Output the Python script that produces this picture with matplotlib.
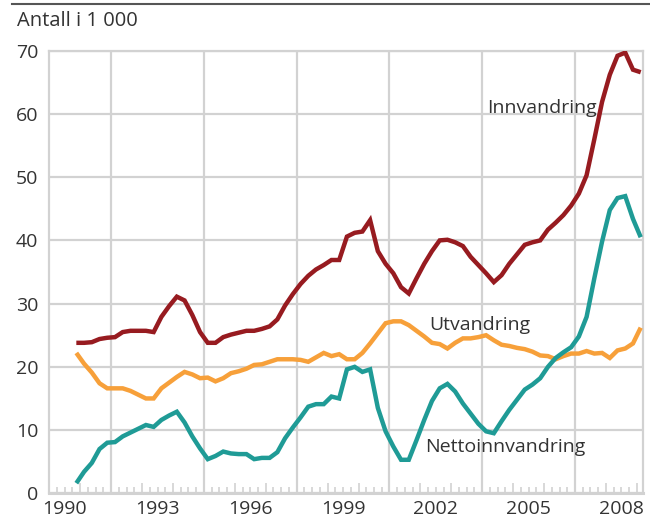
import matplotlib
matplotlib.use('Agg')
import matplotlib.pyplot as plt
import numpy as np

plt.rcParams['font.family'] = ['Open Sans', 'DejaVu Sans']

# quarterly series, first point 1990 Q4, last point 2009 Q1 (thousands)
first_year, first_quarter = 1990, 4

innvandring = [
    23.8, 23.8, 23.9, 24.4, 24.6, 24.7, 25.5, 25.7, 25.7, 25.7,
    25.5, 27.9, 29.6, 31.1, 30.5, 28.2, 25.5, 23.8, 23.8, 24.7,
    25.1, 25.4, 25.7, 25.7, 26.0, 26.4, 27.5, 29.7, 31.5, 33.1,
    34.4, 35.4, 36.1, 36.9, 36.9, 40.6, 41.2, 41.4, 43.2, 38.3,
    36.3, 34.8, 32.6, 31.6, 34.0, 36.3, 38.3, 40.0, 40.1, 39.7,
    39.1, 37.4, 36.1, 34.8, 33.4, 34.5, 36.3, 37.8, 39.3, 39.7,
    40.0, 41.7, 42.8, 44.0, 45.5, 47.4, 50.3, 56.0, 61.9, 66.2,
    69.2, 69.7, 67.0, 66.6,
]

utvandring = [
    22.2, 20.5, 19.1, 17.4, 16.6, 16.6, 16.6, 16.2, 15.6, 15.0,
    15.0, 16.6, 17.5, 18.4, 19.2, 18.8, 18.2, 18.3, 17.7, 18.2,
    19.0, 19.3, 19.7, 20.3, 20.4, 20.8, 21.2, 21.2, 21.2, 21.1,
    20.8, 21.5, 22.2, 21.7, 22.0, 21.2, 21.2, 22.2, 23.7, 25.3,
    26.9, 27.2, 27.2, 26.6, 25.7, 24.8, 23.8, 23.6, 22.9, 23.8,
    24.5, 24.5, 24.7, 25.0, 24.2, 23.5, 23.3, 23.0, 22.8, 22.4,
    21.8, 21.7, 21.2, 21.7, 22.1, 22.1, 22.5, 22.1, 22.2, 21.4,
    22.6, 22.9, 23.7, 26.2,
]

nettoinnvandring = [
    1.6, 3.4, 4.8, 7.0, 8.0, 8.1, 9.0, 9.6, 10.2, 10.8,
    10.5, 11.6, 12.3, 12.9, 11.2, 9.0, 7.1, 5.4, 5.9, 6.6,
    6.3, 6.2, 6.2, 5.4, 5.6, 5.6, 6.5, 8.7, 10.4, 12.0,
    13.7, 14.1, 14.1, 15.3, 15.0, 19.6, 20.0, 19.2, 19.6, 13.5,
    9.8, 7.4, 5.3, 5.3, 8.4, 11.6, 14.6, 16.6, 17.3, 16.1,
    14.2, 12.6, 11.0, 9.8, 9.5, 11.4, 13.2, 14.8, 16.4, 17.2,
    18.2, 20.0, 21.4, 22.3, 23.1, 24.8, 27.9, 34.0, 39.8, 44.8,
    46.7, 47.0, 43.4, 40.5,
]

series = [
    ('Innvandring', innvandring, '#971B20'),
    ('Utvandring', utvandring, '#F7A03A'),
    ('Nettoinnvandring', nettoinnvandring, '#1F9B96'),
]

label_years = [1990, 1993, 1996, 1999, 2002, 2005, 2008]
grid_years = [1992, 1995, 1998, 2001, 2004, 2007]

TEXT = '#333333'
GRID = '#D2D2D2'
FS = 14

# x position of each quarter = its midpoint in decimal years
n = len(innvandring)
quarter_index = np.arange(n) + (first_quarter - 1)
x = first_year + (quarter_index + 0.5) / 4

fig = plt.figure(figsize=(6.5, 5.24), dpi=100)
ax = fig.add_axes([0.0758, 0.0586, 0.9130, 0.8446])

for name, values, color in series:
    ax.plot(x, values, color=color, lw=3.2, solid_joinstyle='miter',
            solid_capstyle='butt', zorder=3)

ax.set_xlim(1990, 2009.19)
ax.set_ylim(0, 70)

# grid
ax.set_yticks(range(0, 71, 10))
ax.yaxis.grid(True, color=GRID, lw=1.6)
for yr in grid_years:
    ax.axvline(yr, color=GRID, lw=1.6, zorder=1)
ax.set_axisbelow(True)
for side in ['left', 'right', 'top', 'bottom']:
    ax.spines[side].set_color(GRID)
    ax.spines[side].set_linewidth(1.6)
ax.spines['bottom'].set_linewidth(2.2)

# year and quarter tick marks along bottom
ax.set_xticks(np.arange(1990, 2010))
ax.set_xticklabels([])
ax.set_xticks(np.arange(1990, 2009.2, 0.25), minor=True)
ax.tick_params(axis='x', which='major', direction='in', length=7,
               width=1.2, color=GRID)
ax.tick_params(axis='x', which='minor', direction='in', length=4,
               width=1.2, color=GRID)
ax.tick_params(axis='y', length=0, pad=8, labelsize=FS, labelcolor=TEXT)

# year labels centred under each year
sec = ax.secondary_xaxis('bottom')
sec.set_xticks([y + 0.5 for y in label_years])
sec.set_xticklabels([str(y) for y in label_years])
sec.tick_params(length=0, pad=5, labelsize=FS, labelcolor=TEXT)
sec.spines['bottom'].set_visible(False)

# series labels
ax.text(2004.15, 61.0, 'Innvandring', fontsize=FS, color=TEXT,
        va='center', ha='left')
ax.text(2002.28, 26.6, 'Utvandring', fontsize=FS, color=TEXT,
        va='center', ha='left')
ax.text(2002.15, 7.3, 'Nettoinnvandring', fontsize=FS, color=TEXT,
        va='center', ha='left')

# header
fig.text(17 / 650, 1 - 21 / 524, 'Antall i 1 000', fontsize=14.5,
         color=TEXT, va='center', ha='left')
fig.add_artist(plt.Line2D([12 / 650, 1], [1 - 4 / 524, 1 - 4 / 524],
                          color='#555555', lw=1.5))

fig.savefig('out.png', dpi=100)
